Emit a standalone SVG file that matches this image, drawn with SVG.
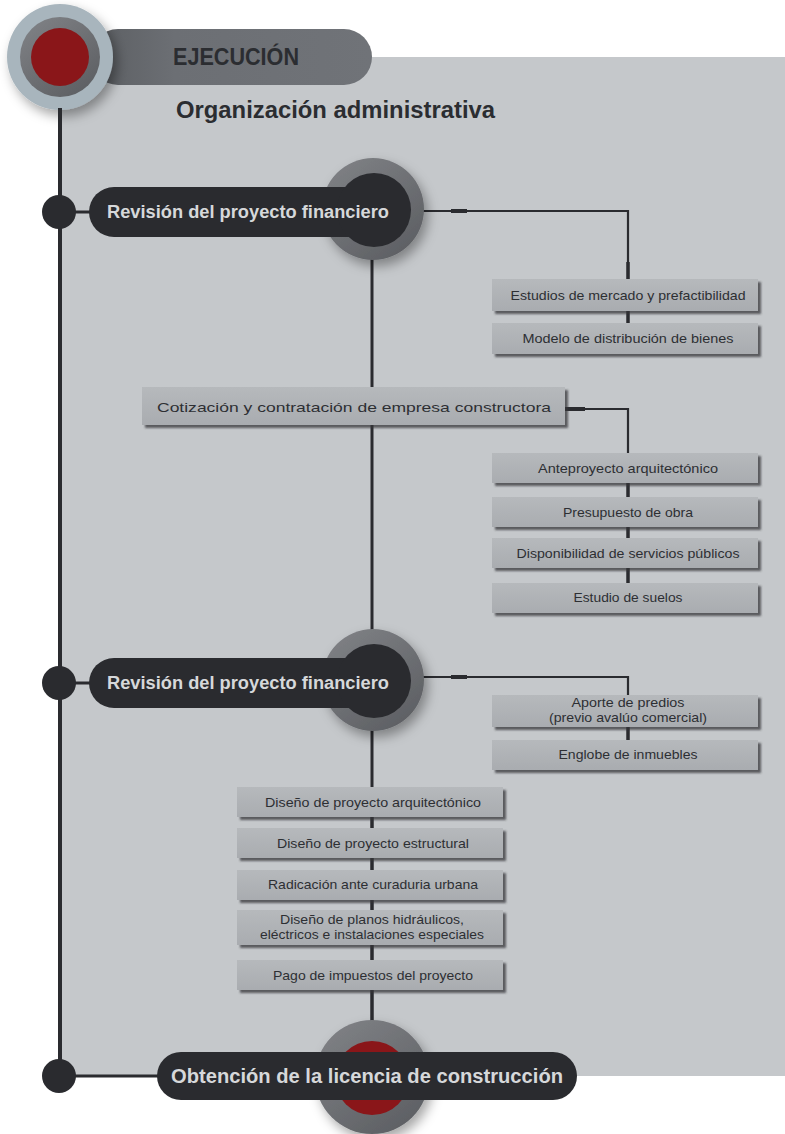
<svg xmlns="http://www.w3.org/2000/svg" width="785" height="1134" viewBox="0 0 785 1134">
<defs>
<style>
.box{fill:url(#gBox);filter:url(#fBox)}
.bt{font-family:"Liberation Sans",Arial,sans-serif;font-size:13.5px;fill:#2d2f33;text-anchor:middle}
.pt{font-family:"Liberation Sans",Arial,sans-serif;font-weight:bold;fill:#d6d8da}
.ht{font-family:"Liberation Sans",Arial,sans-serif;font-weight:bold;fill:#2b2d31}
.dark{fill:#2a2b2f}
.ln{stroke:#2a2b2f;fill:none}
</style>
<linearGradient id="gBox" x1="0" y1="0" x2="0" y2="1">
<stop offset="0" stop-color="#b6b9bc"/>
<stop offset="1" stop-color="#a9acb0"/>
</linearGradient>
<linearGradient id="gRing" x1="0.2" y1="0.1" x2="0.8" y2="0.9">
<stop offset="0" stop-color="#7c7e82"/>
<stop offset="1" stop-color="#5f6165"/>
</linearGradient>
<linearGradient id="gBar" x1="0" y1="0" x2="1" y2="0">
<stop offset="0" stop-color="#5b5e62"/>
<stop offset="0.3" stop-color="#6c6f74"/>
<stop offset="1" stop-color="#707378"/>
</linearGradient>
<filter id="fBox" x="-10%" y="-20%" width="130%" height="160%">
<feDropShadow dx="3" dy="3" stdDeviation="1.3" flood-color="#35373b" flood-opacity="0.75"/>
</filter>
<filter id="fSoft" x="-40%" y="-40%" width="190%" height="190%">
<feDropShadow dx="4" dy="6" stdDeviation="6" flood-color="#000" flood-opacity="0.35"/>
</filter>
</defs>

<rect x="61" y="57" width="724" height="1019" fill="#c5c8cb"/>

<g id="header">
<rect x="90" y="29" width="282" height="56" rx="28" fill="url(#gBar)"/>
<circle cx="60" cy="57" r="53" fill="#a8b5bd" filter="url(#fSoft)"/>
<circle cx="60" cy="57" r="40" fill="url(#gRing)"/>
<circle cx="60" cy="57" r="29" fill="#8a1619"/>
<text class="ht" x="173" y="65" font-size="24" textLength="126" lengthAdjust="spacingAndGlyphs">EJECUCIÓN</text>
<text class="ht" x="176" y="118" font-size="23" textLength="319" lengthAdjust="spacingAndGlyphs">Organización administrativa</text>
</g>

<g id="connectors">
<line class="ln" x1="60" y1="108" x2="60" y2="1076" stroke-width="4"/>
<line class="ln" x1="60" y1="212" x2="92" y2="212" stroke-width="3"/>
<line class="ln" x1="60" y1="683" x2="92" y2="683" stroke-width="3"/>
<line class="ln" x1="60" y1="1076" x2="160" y2="1076" stroke-width="3"/>
<polyline class="ln" points="420,211 628,211 628,279" stroke-width="2.2"/>
<line class="ln" x1="451" y1="211" x2="467" y2="211" stroke-width="4"/>
<line class="ln" x1="628" y1="262" x2="628" y2="279" stroke-width="3.5"/>
<line class="ln" x1="628" y1="311" x2="628" y2="323" stroke-width="3.5"/>
<line class="ln" x1="372" y1="258" x2="372" y2="387" stroke-width="3"/>
<polyline class="ln" points="565,409 628,409 628,453" stroke-width="2.2"/>
<line class="ln" x1="565" y1="409" x2="585" y2="409" stroke-width="4"/>
<line class="ln" x1="628" y1="483" x2="628" y2="497" stroke-width="3.5"/>
<line class="ln" x1="628" y1="527" x2="628" y2="538" stroke-width="3.5"/>
<line class="ln" x1="628" y1="568" x2="628" y2="583" stroke-width="3.5"/>
<line class="ln" x1="372" y1="425" x2="372" y2="632" stroke-width="3"/>
<polyline class="ln" points="420,677 628,677 628,695" stroke-width="2.2"/>
<line class="ln" x1="451" y1="677" x2="467" y2="677" stroke-width="4"/>
<line class="ln" x1="628" y1="727" x2="628" y2="740" stroke-width="3.5"/>
<line class="ln" x1="372" y1="728" x2="372" y2="787" stroke-width="3"/>
<line class="ln" x1="372" y1="817" x2="372" y2="828" stroke-width="3.5"/>
<line class="ln" x1="372" y1="858" x2="372" y2="870" stroke-width="3.5"/>
<line class="ln" x1="372" y1="900" x2="372" y2="910" stroke-width="3.5"/>
<line class="ln" x1="372" y1="945" x2="372" y2="960" stroke-width="3.5"/>
<line class="ln" x1="372" y1="990" x2="372" y2="1022" stroke-width="3.5"/>
</g>

<g id="node-revision-1">
<circle class="dark" cx="59" cy="212" r="17"/>
<circle cx="373" cy="209" r="51" fill="url(#gRing)" filter="url(#fSoft)"/>
<rect class="dark" x="89" y="187" width="300" height="50" rx="25"/>
<circle class="dark" cx="374" cy="210" r="37"/>
<text class="pt" x="107" y="218" font-size="18" textLength="282" lengthAdjust="spacingAndGlyphs">Revisión del proyecto financiero</text>
</g>

<g id="node-estudios">
<rect class="box" x="492" y="279" width="266" height="32"/>
<text class="bt" x="628" y="300" textLength="235" lengthAdjust="spacingAndGlyphs">Estudios de mercado y prefactibilidad</text>
</g>
<g id="node-modelo">
<rect class="box" x="492" y="323" width="266" height="31"/>
<text class="bt" x="628" y="343" textLength="211" lengthAdjust="spacingAndGlyphs">Modelo de distribución de bienes</text>
</g>

<g id="node-cotizacion">
<rect class="box" x="142" y="387" width="423" height="38"/>
<text class="bt" x="354" y="412" font-size="17" textLength="394" lengthAdjust="spacingAndGlyphs">Cotización y contratación de empresa constructora</text>
</g>

<g id="node-anteproyecto">
<rect class="box" x="492" y="453" width="266" height="30"/>
<text class="bt" x="628" y="473" textLength="180" lengthAdjust="spacingAndGlyphs">Anteproyecto arquitectónico</text>
</g>
<g id="node-presupuesto">
<rect class="box" x="492" y="497" width="266" height="30"/>
<text class="bt" x="628" y="517" textLength="130" lengthAdjust="spacingAndGlyphs">Presupuesto de obra</text>
</g>
<g id="node-disponibilidad">
<rect class="box" x="492" y="538" width="266" height="30"/>
<text class="bt" x="628" y="558" textLength="223" lengthAdjust="spacingAndGlyphs">Disponibilidad de servicios públicos</text>
</g>
<g id="node-suelos">
<rect class="box" x="492" y="583" width="266" height="30"/>
<text class="bt" x="628" y="602" textLength="109" lengthAdjust="spacingAndGlyphs">Estudio de suelos</text>
</g>

<g id="node-revision-2">
<circle class="dark" cx="59" cy="683" r="17"/>
<circle cx="373" cy="680" r="51" fill="url(#gRing)" filter="url(#fSoft)"/>
<rect class="dark" x="89" y="658" width="300" height="50" rx="25"/>
<circle class="dark" cx="374" cy="681" r="37"/>
<text class="pt" x="107" y="689" font-size="18" textLength="282" lengthAdjust="spacingAndGlyphs">Revisión del proyecto financiero</text>
</g>

<g id="node-aporte">
<rect class="box" x="492" y="695" width="266" height="32"/>
<text class="bt" x="628" y="707" textLength="113" lengthAdjust="spacingAndGlyphs">Aporte de predios</text>
<text class="bt" x="628" y="722" textLength="158" lengthAdjust="spacingAndGlyphs">(previo avalúo comercial)</text>
</g>
<g id="node-englobe">
<rect class="box" x="492" y="740" width="266" height="30"/>
<text class="bt" x="628" y="759" textLength="139" lengthAdjust="spacingAndGlyphs">Englobe de inmuebles</text>
</g>

<g id="node-diseno-arq">
<rect class="box" x="237" y="787" width="266" height="30"/>
<text class="bt" x="373" y="807" textLength="216" lengthAdjust="spacingAndGlyphs">Diseño de proyecto arquitectónico</text>
</g>
<g id="node-diseno-est">
<rect class="box" x="237" y="828" width="266" height="30"/>
<text class="bt" x="373" y="848" textLength="192" lengthAdjust="spacingAndGlyphs">Diseño de proyecto estructural</text>
</g>
<g id="node-radicacion">
<rect class="box" x="237" y="870" width="266" height="30"/>
<text class="bt" x="373" y="889" textLength="210" lengthAdjust="spacingAndGlyphs">Radicación ante curaduria urbana</text>
</g>
<g id="node-planos">
<rect class="box" x="237" y="910" width="266" height="35"/>
<text class="bt" x="372" y="924" textLength="184" lengthAdjust="spacingAndGlyphs">Diseño de planos hidráulicos,</text>
<text class="bt" x="372" y="939" textLength="224" lengthAdjust="spacingAndGlyphs">eléctricos e instalaciones especiales</text>
</g>
<g id="node-pago">
<rect class="box" x="237" y="960" width="266" height="30"/>
<text class="bt" x="373" y="980" textLength="200" lengthAdjust="spacingAndGlyphs">Pago de impuestos del proyecto</text>
</g>

<g id="node-licencia">
<circle class="dark" cx="59" cy="1076" r="17"/>
<circle cx="372" cy="1077" r="57" fill="url(#gRing)" filter="url(#fSoft)"/>
<circle cx="372" cy="1078" r="37" fill="#8a1619"/>
<rect class="dark" x="157" y="1052" width="420" height="48" rx="24"/>
<text class="pt" x="171" y="1083" font-size="20" textLength="392" lengthAdjust="spacingAndGlyphs">Obtención de la licencia de construcción</text>
</g>
</svg>
